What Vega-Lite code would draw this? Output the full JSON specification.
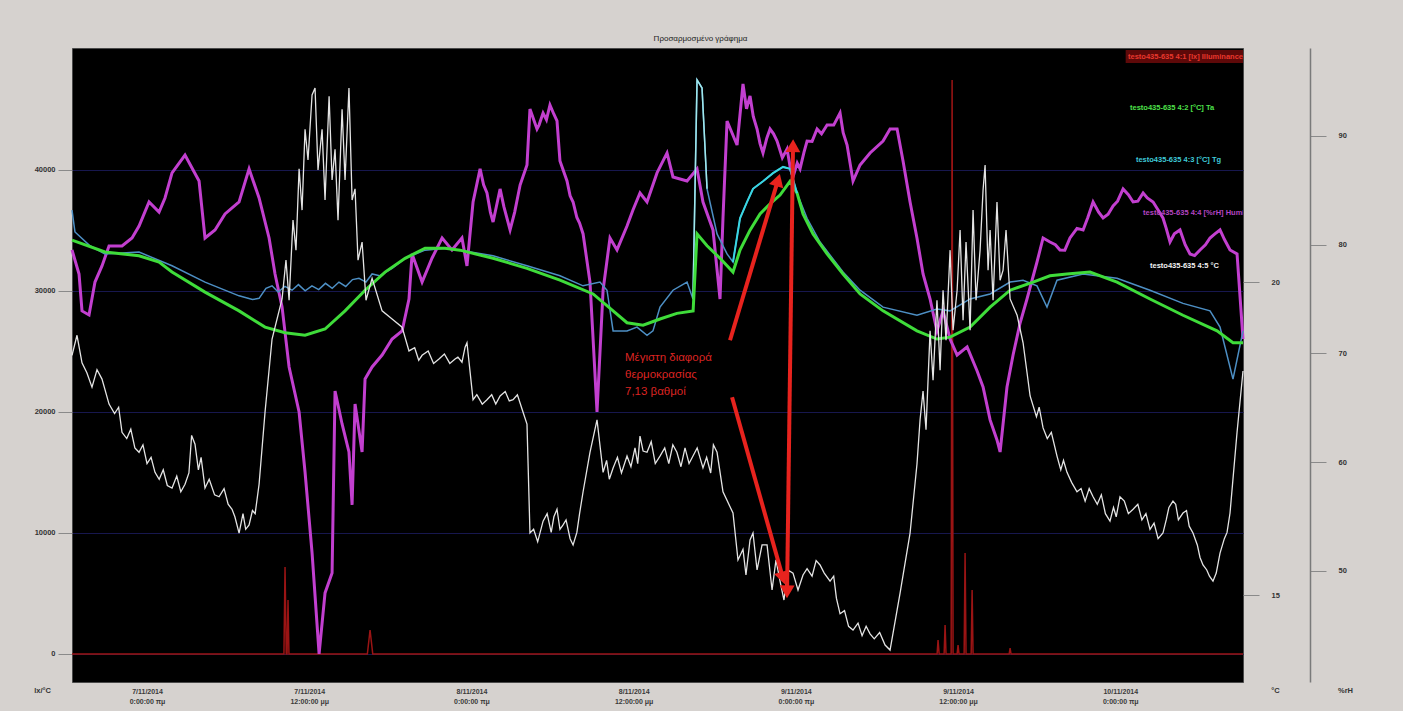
{
  "$schema": "https://vega.github.io/schema/vega-lite/v6.json",
  "width": 1171,
  "height": 634,
  "autosize": {"type": "none"},
  "padding": {"left": 72, "top": 48, "right": 160, "bottom": 29},
  "background": "#d6d2cf",
  "title": {"text": "Προσαρμοσμένο γράφημα", "fontSize": 8, "fontWeight": "normal", "color": "#222222", "anchor": "middle", "offset": 5, "dx": 43},
  "config": {"view": {"fill": "black", "stroke": "#4a4a4a"}, "font": "Liberation Sans"},
  "datasets": {
    "lux": [
      {"h": -5.55, "v": 0}, {"h": 10.13, "v": 0}, {"h": 10.21, "v": 7190}, {"h": 10.3, "v": 0}, {"h": 10.36, "v": 0}, {"h": 10.43, "v": 4463}, {"h": 10.5, "v": 0},
      {"h": 16.3, "v": 0}, {"h": 16.5, "v": 1983}, {"h": 16.7, "v": 0},
      {"h": 58.45, "v": 0}, {"h": 58.52, "v": 1157}, {"h": 58.6, "v": 0}, {"h": 58.97, "v": 0}, {"h": 59.04, "v": 2397}, {"h": 59.11, "v": 0},
      {"h": 59.49, "v": 0}, {"h": 59.56, "v": 47434}, {"h": 59.63, "v": 0}, {"h": 59.93, "v": 0}, {"h": 60.0, "v": 744}, {"h": 60.07, "v": 0},
      {"h": 60.45, "v": 0}, {"h": 60.52, "v": 8347}, {"h": 60.59, "v": 0}, {"h": 60.97, "v": 0}, {"h": 61.04, "v": 5289}, {"h": 61.11, "v": 0},
      {"h": 63.78, "v": 0}, {"h": 63.85, "v": 496}, {"h": 63.92, "v": 0}, {"h": 81.08, "v": 0}
    ],
    "ta": [
      {"h": -5.55, "v": 20.67}, {"h": -3.11, "v": 20.48}, {"h": -0.59, "v": 20.42}, {"h": 0.89, "v": 20.32}, {"h": 1.85, "v": 20.16}, {"h": 4.29, "v": 19.84},
      {"h": 6.81, "v": 19.54}, {"h": 8.73, "v": 19.28}, {"h": 10.21, "v": 19.19}, {"h": 11.69, "v": 19.15}, {"h": 13.17, "v": 19.25}, {"h": 14.65, "v": 19.54},
      {"h": 16.13, "v": 19.87}, {"h": 17.61, "v": 20.16}, {"h": 19.09, "v": 20.38}, {"h": 20.57, "v": 20.54}, {"h": 22.05, "v": 20.54}, {"h": 23.16, "v": 20.51},
      {"h": 25.6, "v": 20.38}, {"h": 28.11, "v": 20.22}, {"h": 30.55, "v": 20.03}, {"h": 33.0, "v": 19.81}, {"h": 34.48, "v": 19.54}, {"h": 35.51, "v": 19.35},
      {"h": 36.7, "v": 19.31}, {"h": 37.95, "v": 19.41}, {"h": 39.2, "v": 19.5}, {"h": 40.4, "v": 19.54}, {"h": 40.69, "v": 20.77}, {"h": 41.43, "v": 20.58},
      {"h": 42.39, "v": 20.38}, {"h": 43.35, "v": 20.16}, {"h": 43.87, "v": 20.51}, {"h": 44.61, "v": 20.83}, {"h": 45.35, "v": 21.09}, {"h": 46.09, "v": 21.25},
      {"h": 46.83, "v": 21.39}, {"h": 47.57, "v": 21.61}, {"h": 48.09, "v": 21.42}, {"h": 48.53, "v": 21.09}, {"h": 49.27, "v": 20.77}, {"h": 50.31, "v": 20.45},
      {"h": 51.49, "v": 20.13}, {"h": 52.75, "v": 19.81}, {"h": 54.45, "v": 19.54}, {"h": 56.96, "v": 19.22}, {"h": 58.44, "v": 19.09}, {"h": 59.41, "v": 19.12},
      {"h": 60.89, "v": 19.28}, {"h": 62.37, "v": 19.6}, {"h": 63.85, "v": 19.87}, {"h": 65.55, "v": 20.0}, {"h": 66.8, "v": 20.1}, {"h": 68.06, "v": 20.13},
      {"h": 69.76, "v": 20.16}, {"h": 71.76, "v": 20.0}, {"h": 74.2, "v": 19.73}, {"h": 76.64, "v": 19.47}, {"h": 79.16, "v": 19.22}, {"h": 80.34, "v": 19.03},
      {"h": 81.08, "v": 19.03}
    ],
    "t": [
      {"h": -5.55, "v": 21.15}, {"h": -5.33, "v": 20.8}, {"h": -4.22, "v": 20.58}, {"h": -3.11, "v": 20.45}, {"h": -0.59, "v": 20.48}, {"h": 1.85, "v": 20.26},
      {"h": 4.29, "v": 20.0}, {"h": 6.81, "v": 19.78}, {"h": 7.8, "v": 19.72}, {"h": 8.29, "v": 19.74}, {"h": 8.8, "v": 19.9}, {"h": 9.25, "v": 19.94},
      {"h": 9.7, "v": 19.84}, {"h": 10.2, "v": 19.93}, {"h": 10.73, "v": 19.87}, {"h": 11.2, "v": 19.96}, {"h": 11.7, "v": 19.86}, {"h": 12.2, "v": 19.94},
      {"h": 12.7, "v": 19.88}, {"h": 13.2, "v": 19.98}, {"h": 13.7, "v": 19.9}, {"h": 14.2, "v": 20.0}, {"h": 14.7, "v": 19.93}, {"h": 15.2, "v": 20.04},
      {"h": 15.68, "v": 20.06}, {"h": 16.2, "v": 20.0}, {"h": 16.65, "v": 20.13}, {"h": 17.2, "v": 20.1}, {"h": 18.13, "v": 20.22}, {"h": 19.09, "v": 20.38},
      {"h": 20.57, "v": 20.51}, {"h": 22.05, "v": 20.54}, {"h": 23.16, "v": 20.51}, {"h": 25.6, "v": 20.42}, {"h": 28.11, "v": 20.26}, {"h": 30.55, "v": 20.1},
      {"h": 32.26, "v": 19.94}, {"h": 33.51, "v": 20.0}, {"h": 34.03, "v": 19.87}, {"h": 34.48, "v": 19.22}, {"h": 35.51, "v": 19.22}, {"h": 36.25, "v": 19.28},
      {"h": 36.99, "v": 19.15}, {"h": 37.43, "v": 19.22}, {"h": 37.95, "v": 19.6}, {"h": 38.91, "v": 19.87}, {"h": 39.95, "v": 20.0}, {"h": 40.39, "v": 19.73},
      {"h": 40.69, "v": 23.23}, {"h": 41.06, "v": 23.1}, {"h": 41.43, "v": 21.49}, {"h": 42.17, "v": 20.77}, {"h": 42.91, "v": 20.45}, {"h": 43.35, "v": 20.32},
      {"h": 43.87, "v": 21.02}, {"h": 44.39, "v": 21.28}, {"h": 44.83, "v": 21.49}, {"h": 45.57, "v": 21.61}, {"h": 46.31, "v": 21.74}, {"h": 47.05, "v": 21.84},
      {"h": 47.57, "v": 21.81}, {"h": 48.09, "v": 21.42}, {"h": 48.83, "v": 21.02}, {"h": 49.79, "v": 20.64}, {"h": 51.49, "v": 20.16}, {"h": 52.75, "v": 19.87},
      {"h": 54.45, "v": 19.6}, {"h": 56.96, "v": 19.47}, {"h": 58.44, "v": 19.57}, {"h": 59.41, "v": 19.54}, {"h": 60.89, "v": 19.73}, {"h": 62.37, "v": 19.81},
      {"h": 63.85, "v": 20.0}, {"h": 64.81, "v": 20.03}, {"h": 65.84, "v": 19.94}, {"h": 66.58, "v": 19.6}, {"h": 67.32, "v": 20.03}, {"h": 69.25, "v": 20.13},
      {"h": 71.76, "v": 20.06}, {"h": 74.2, "v": 19.87}, {"h": 76.64, "v": 19.66}, {"h": 78.64, "v": 19.54}, {"h": 79.38, "v": 19.28}, {"h": 80.34, "v": 18.45},
      {"h": 81.08, "v": 19.22}
    ],
    "t5": [
      {"h": -5.55, "v": 18.83}, {"h": -5.18, "v": 19.15}, {"h": -4.81, "v": 18.71}, {"h": -4.07, "v": 18.32}, {"h": -3.33, "v": 18.45}, {"h": -2.81, "v": 18.05},
      {"h": -1.85, "v": 17.6}, {"h": -0.59, "v": 17.28}, {"h": 0.59, "v": 16.96}, {"h": 1.85, "v": 16.71}, {"h": 2.81, "v": 16.77}, {"h": 3.55, "v": 17.41},
      {"h": 4.29, "v": 16.71}, {"h": 5.33, "v": 16.57}, {"h": 6.29, "v": 16.37}, {"h": 6.81, "v": 15.99}, {"h": 7.55, "v": 16.12}, {"h": 8.29, "v": 16.77},
      {"h": 8.73, "v": 17.92}, {"h": 9.25, "v": 19.09}, {"h": 9.99, "v": 19.73}, {"h": 10.28, "v": 20.35}, {"h": 10.51, "v": 19.71}, {"h": 10.8, "v": 20.99},
      {"h": 11.02, "v": 20.51}, {"h": 11.25, "v": 21.81}, {"h": 11.47, "v": 21.15}, {"h": 11.69, "v": 22.44}, {"h": 11.91, "v": 21.95}, {"h": 12.21, "v": 22.99},
      {"h": 12.43, "v": 23.1}, {"h": 12.65, "v": 21.79}, {"h": 12.95, "v": 22.44}, {"h": 13.17, "v": 21.31}, {"h": 13.47, "v": 22.97}, {"h": 13.69, "v": 21.63},
      {"h": 13.91, "v": 22.12}, {"h": 14.13, "v": 20.99}, {"h": 14.43, "v": 22.76}, {"h": 14.65, "v": 21.63}, {"h": 14.94, "v": 23.1}, {"h": 15.17, "v": 21.31},
      {"h": 15.39, "v": 21.49}, {"h": 15.61, "v": 20.35}, {"h": 15.91, "v": 20.64}, {"h": 16.2, "v": 19.71}, {"h": 16.65, "v": 20.06}, {"h": 17.39, "v": 19.54},
      {"h": 18.13, "v": 19.41}, {"h": 18.87, "v": 19.28}, {"h": 19.38, "v": 18.9}, {"h": 20.35, "v": 18.83}, {"h": 21.6, "v": 18.77}, {"h": 22.79, "v": 18.77},
      {"h": 23.53, "v": 18.96}, {"h": 23.67, "v": 19.03}, {"h": 24.12, "v": 18.12}, {"h": 25.15, "v": 18.12}, {"h": 26.12, "v": 18.18}, {"h": 27.08, "v": 18.12},
      {"h": 27.82, "v": 17.92}, {"h": 28.11, "v": 17.73}, {"h": 28.33, "v": 15.99}, {"h": 29.3, "v": 16.18}, {"h": 30.33, "v": 16.37}, {"h": 30.78, "v": 16.12},
      {"h": 31.52, "v": 15.8}, {"h": 32.26, "v": 16.65}, {"h": 32.77, "v": 17.28}, {"h": 33.29, "v": 17.8}, {"h": 33.74, "v": 16.96}, {"h": 34.48, "v": 17.03},
      {"h": 35.51, "v": 17.22}, {"h": 36.47, "v": 17.54}, {"h": 36.99, "v": 17.28}, {"h": 37.95, "v": 17.22}, {"h": 39.2, "v": 17.28}, {"h": 40.39, "v": 17.22},
      {"h": 41.13, "v": 17.03}, {"h": 42.17, "v": 17.28}, {"h": 42.61, "v": 16.65}, {"h": 43.35, "v": 16.31}, {"h": 43.72, "v": 15.56}, {"h": 44.09, "v": 15.73},
      {"h": 44.31, "v": 15.32}, {"h": 44.61, "v": 15.88}, {"h": 44.83, "v": 15.99}, {"h": 45.13, "v": 15.4}, {"h": 45.5, "v": 15.8}, {"h": 45.87, "v": 15.8},
      {"h": 46.24, "v": 15.08}, {"h": 46.53, "v": 15.56}, {"h": 46.83, "v": 15.22}, {"h": 47.12, "v": 14.92}, {"h": 47.42, "v": 15.4}, {"h": 47.79, "v": 15.35},
      {"h": 48.16, "v": 15.08}, {"h": 48.53, "v": 15.32}, {"h": 48.83, "v": 15.42}, {"h": 49.79, "v": 15.48}, {"h": 50.53, "v": 15.22}, {"h": 51.27, "v": 14.7},
      {"h": 52.23, "v": 14.44}, {"h": 53.49, "v": 14.38}, {"h": 54.97, "v": 14.12}, {"h": 55.71, "v": 15.03}, {"h": 56.45, "v": 15.99}, {"h": 56.96, "v": 17.09},
      {"h": 57.19, "v": 17.8}, {"h": 57.41, "v": 18.26}, {"h": 57.63, "v": 17.64}, {"h": 57.93, "v": 19.22}, {"h": 58.15, "v": 18.43}, {"h": 58.44, "v": 19.71},
      {"h": 58.67, "v": 18.59}, {"h": 58.89, "v": 19.87}, {"h": 59.11, "v": 19.07}, {"h": 59.41, "v": 20.51}, {"h": 59.63, "v": 19.23}, {"h": 59.93, "v": 19.87},
      {"h": 60.15, "v": 20.83}, {"h": 60.37, "v": 19.39}, {"h": 60.59, "v": 20.64}, {"h": 60.89, "v": 19.23}, {"h": 61.11, "v": 21.15}, {"h": 61.33, "v": 19.71},
      {"h": 61.63, "v": 20.51}, {"h": 61.85, "v": 21.47}, {"h": 62.0, "v": 21.87}, {"h": 62.22, "v": 20.19}, {"h": 62.37, "v": 20.83}, {"h": 62.59, "v": 19.71},
      {"h": 62.88, "v": 21.28}, {"h": 63.11, "v": 20.03}, {"h": 63.33, "v": 20.19}, {"h": 63.55, "v": 20.83}, {"h": 63.85, "v": 19.73}, {"h": 64.37, "v": 19.47},
      {"h": 64.81, "v": 19.03}, {"h": 65.33, "v": 18.18}, {"h": 66.29, "v": 17.67}, {"h": 67.32, "v": 17.22}, {"h": 68.06, "v": 16.96}, {"h": 68.8, "v": 16.65},
      {"h": 69.99, "v": 16.57}, {"h": 71.24, "v": 16.18}, {"h": 71.98, "v": 16.57}, {"h": 72.95, "v": 16.37}, {"h": 74.2, "v": 16.05}, {"h": 75.16, "v": 15.99},
      {"h": 75.9, "v": 16.5}, {"h": 76.64, "v": 16.31}, {"h": 77.38, "v": 15.99}, {"h": 78.12, "v": 15.48}, {"h": 78.86, "v": 15.22}, {"h": 79.38, "v": 15.67},
      {"h": 80.12, "v": 16.31}, {"h": 80.64, "v": 17.6}, {"h": 81.08, "v": 18.58},
      {"h": -4.45, "v": 18.55}, {"h": -3.7, "v": 18.6}, {"h": -2.4, "v": 17.9}, {"h": -2.1, "v": 18.0}, {"h": -1.5, "v": 17.5}, {"h": -1.2, "v": 17.65},
      {"h": -0.9, "v": 17.35}, {"h": -0.3, "v": 17.4}, {"h": 0.0, "v": 17.1}, {"h": 0.3, "v": 17.2}, {"h": 0.9, "v": 16.85}, {"h": 1.2, "v": 17.0},
      {"h": 1.5, "v": 16.75}, {"h": 2.2, "v": 16.9}, {"h": 2.5, "v": 16.65}, {"h": 3.1, "v": 16.95}, {"h": 3.3, "v": 17.55}, {"h": 3.8, "v": 17.0},
      {"h": 4.0, "v": 17.2}, {"h": 4.6, "v": 16.85}, {"h": 5.0, "v": 16.6}, {"h": 5.7, "v": 16.7}, {"h": 6.0, "v": 16.45}, {"h": 6.5, "v": 16.25},
      {"h": 7.1, "v": 16.3}, {"h": 7.3, "v": 16.05}, {"h": 7.8, "v": 16.35}, {"h": 8.0, "v": 16.3},
      {"h": 19.8, "v": 18.95}, {"h": 20.1, "v": 18.75}, {"h": 20.8, "v": 18.9}, {"h": 21.2, "v": 18.7}, {"h": 22.0, "v": 18.85}, {"h": 22.4, "v": 18.7},
      {"h": 23.0, "v": 18.8}, {"h": 23.3, "v": 18.72}, {"h": 24.4, "v": 18.2}, {"h": 24.8, "v": 18.05}, {"h": 25.5, "v": 18.2}, {"h": 25.8, "v": 18.05},
      {"h": 26.5, "v": 18.25}, {"h": 26.8, "v": 18.1}, {"h": 27.4, "v": 18.2},
      {"h": 28.6, "v": 16.05}, {"h": 28.9, "v": 15.85}, {"h": 29.6, "v": 16.3}, {"h": 29.9, "v": 16.0}, {"h": 30.1, "v": 16.25}, {"h": 30.55, "v": 16.05},
      {"h": 31.0, "v": 16.2}, {"h": 31.3, "v": 15.9}, {"h": 31.8, "v": 16.0}, {"h": 32.0, "v": 16.3},
      {"h": 34.0, "v": 17.15}, {"h": 34.2, "v": 16.85}, {"h": 34.8, "v": 17.2}, {"h": 35.1, "v": 16.95}, {"h": 35.8, "v": 17.05}, {"h": 36.1, "v": 17.35},
      {"h": 36.3, "v": 17.1}, {"h": 36.7, "v": 17.3}, {"h": 37.3, "v": 17.45}, {"h": 37.6, "v": 17.1}, {"h": 38.3, "v": 17.35}, {"h": 38.6, "v": 17.1},
      {"h": 38.9, "v": 17.4}, {"h": 39.5, "v": 17.05}, {"h": 39.8, "v": 17.35}, {"h": 40.1, "v": 17.1}, {"h": 40.7, "v": 17.35}, {"h": 41.4, "v": 17.2},
      {"h": 41.7, "v": 16.95}, {"h": 41.9, "v": 17.4},
      {"h": 49.2, "v": 15.3}, {"h": 49.5, "v": 15.55}, {"h": 50.1, "v": 15.35}, {"h": 50.8, "v": 15.3}, {"h": 51.0, "v": 14.95}, {"h": 51.6, "v": 14.75},
      {"h": 51.9, "v": 14.5}, {"h": 52.6, "v": 14.55}, {"h": 52.9, "v": 14.35}, {"h": 53.2, "v": 14.5}, {"h": 53.8, "v": 14.3}, {"h": 54.2, "v": 14.4},
      {"h": 54.6, "v": 14.2},
      {"h": 65.8, "v": 17.85}, {"h": 66.0, "v": 18.0}, {"h": 66.6, "v": 17.5}, {"h": 66.9, "v": 17.6}, {"h": 67.6, "v": 17.0}, {"h": 67.8, "v": 17.15},
      {"h": 68.4, "v": 16.8}, {"h": 69.1, "v": 16.7}, {"h": 69.4, "v": 16.5}, {"h": 69.7, "v": 16.7}, {"h": 70.3, "v": 16.45}, {"h": 70.6, "v": 16.6},
      {"h": 70.9, "v": 16.3}, {"h": 71.5, "v": 16.4}, {"h": 71.7, "v": 16.25}, {"h": 72.3, "v": 16.5}, {"h": 72.6, "v": 16.3}, {"h": 73.3, "v": 16.45},
      {"h": 73.6, "v": 16.2}, {"h": 73.9, "v": 16.3}, {"h": 74.5, "v": 16.15}, {"h": 74.8, "v": 15.9}, {"h": 75.4, "v": 16.2}, {"h": 75.6, "v": 16.4},
      {"h": 76.1, "v": 16.45}, {"h": 76.3, "v": 16.2}, {"h": 76.9, "v": 16.35}, {"h": 77.1, "v": 16.1}, {"h": 77.7, "v": 15.8}, {"h": 77.9, "v": 15.6},
      {"h": 78.4, "v": 15.4}, {"h": 78.6, "v": 15.3}, {"h": 79.1, "v": 15.35}, {"h": 79.7, "v": 15.9}, {"h": 79.9, "v": 16.0}
    ],
    "rh": [
      {"h": -5.55, "v": 79.52}, {"h": -5.03, "v": 77.31}, {"h": -4.81, "v": 73.91}, {"h": -4.29, "v": 73.54}, {"h": -3.85, "v": 76.57}, {"h": -3.33, "v": 78.05},
      {"h": -2.81, "v": 79.89}, {"h": -1.85, "v": 79.89}, {"h": -1.11, "v": 80.62}, {"h": -0.59, "v": 81.72}, {"h": 0.15, "v": 83.93}, {"h": 0.89, "v": 83.01},
      {"h": 1.33, "v": 84.3}, {"h": 1.85, "v": 86.6}, {"h": 2.81, "v": 88.25}, {"h": 3.85, "v": 85.86}, {"h": 4.29, "v": 80.62}, {"h": 5.03, "v": 81.36},
      {"h": 5.77, "v": 82.83}, {"h": 6.81, "v": 83.93}, {"h": 7.55, "v": 86.97}, {"h": 8.29, "v": 84.3}, {"h": 9.03, "v": 80.62}, {"h": 9.47, "v": 77.31},
      {"h": 9.99, "v": 74.28}, {"h": 10.51, "v": 68.76}, {"h": 11.25, "v": 64.62}, {"h": 11.69, "v": 59.1}, {"h": 12.21, "v": 51.66}, {"h": 12.73, "v": 42.37},
      {"h": 13.17, "v": 47.98}, {"h": 13.69, "v": 49.82}, {"h": 13.91, "v": 66.55}, {"h": 14.43, "v": 63.52}, {"h": 14.94, "v": 60.94}, {"h": 15.17, "v": 56.07},
      {"h": 15.39, "v": 65.36}, {"h": 15.91, "v": 60.94}, {"h": 16.13, "v": 67.66}, {"h": 16.65, "v": 68.76}, {"h": 17.39, "v": 69.86}, {"h": 18.13, "v": 71.33},
      {"h": 18.87, "v": 72.07}, {"h": 19.38, "v": 75.01}, {"h": 19.61, "v": 79.15}, {"h": 20.35, "v": 76.57}, {"h": 21.09, "v": 78.78}, {"h": 21.83, "v": 80.62},
      {"h": 22.56, "v": 79.52}, {"h": 23.3, "v": 80.62}, {"h": 23.67, "v": 78.05}, {"h": 24.12, "v": 83.93}, {"h": 24.64, "v": 86.97}, {"h": 25.15, "v": 84.76},
      {"h": 25.6, "v": 82.09}, {"h": 26.12, "v": 85.13}, {"h": 26.86, "v": 81.36}, {"h": 27.6, "v": 85.49}, {"h": 28.11, "v": 87.33}, {"h": 28.33, "v": 92.48},
      {"h": 28.85, "v": 90.64}, {"h": 29.3, "v": 92.11}, {"h": 29.81, "v": 92.85}, {"h": 30.33, "v": 91.38}, {"h": 30.55, "v": 87.7}, {"h": 31.07, "v": 85.86},
      {"h": 31.52, "v": 83.93}, {"h": 32.26, "v": 80.99}, {"h": 32.77, "v": 76.57}, {"h": 33.0, "v": 71.33}, {"h": 33.29, "v": 64.62}, {"h": 33.74, "v": 75.84},
      {"h": 34.25, "v": 80.62}, {"h": 34.77, "v": 79.52}, {"h": 35.51, "v": 81.72}, {"h": 35.95, "v": 83.2}, {"h": 36.47, "v": 84.76}, {"h": 36.99, "v": 83.93},
      {"h": 37.73, "v": 86.6}, {"h": 38.47, "v": 88.44}, {"h": 38.91, "v": 86.23}, {"h": 39.95, "v": 85.86}, {"h": 40.69, "v": 86.97}, {"h": 41.13, "v": 83.93},
      {"h": 41.87, "v": 81.36}, {"h": 42.39, "v": 75.01}, {"h": 42.61, "v": 82.46}, {"h": 42.91, "v": 91.38}, {"h": 43.65, "v": 89.17}, {"h": 44.09, "v": 94.78},
      {"h": 44.61, "v": 93.68}, {"h": 45.13, "v": 90.64}, {"h": 45.57, "v": 88.44}, {"h": 46.09, "v": 90.64}, {"h": 46.61, "v": 89.54}, {"h": 47.35, "v": 88.8},
      {"h": 47.79, "v": 86.23}, {"h": 48.31, "v": 86.97}, {"h": 48.83, "v": 89.54}, {"h": 49.57, "v": 90.64}, {"h": 50.31, "v": 91.01}, {"h": 51.27, "v": 92.11},
      {"h": 51.79, "v": 89.17}, {"h": 52.23, "v": 85.86}, {"h": 52.75, "v": 87.33}, {"h": 53.49, "v": 88.44}, {"h": 54.45, "v": 89.54}, {"h": 54.97, "v": 90.64},
      {"h": 55.49, "v": 90.64}, {"h": 55.93, "v": 87.7}, {"h": 56.45, "v": 83.93}, {"h": 56.96, "v": 80.62}, {"h": 57.41, "v": 77.31}, {"h": 57.93, "v": 75.01},
      {"h": 58.44, "v": 72.07}, {"h": 58.89, "v": 73.91}, {"h": 59.41, "v": 71.33}, {"h": 59.93, "v": 69.86}, {"h": 60.67, "v": 70.6}, {"h": 61.41, "v": 68.39},
      {"h": 61.85, "v": 66.92}, {"h": 62.37, "v": 63.89}, {"h": 62.88, "v": 62.05}, {"h": 63.11, "v": 60.94}, {"h": 63.62, "v": 66.92}, {"h": 64.07, "v": 69.86},
      {"h": 64.59, "v": 72.8}, {"h": 65.1, "v": 75.01}, {"h": 65.84, "v": 78.41}, {"h": 66.29, "v": 80.62}, {"h": 66.8, "v": 80.25}, {"h": 67.54, "v": 79.52},
      {"h": 68.28, "v": 80.62}, {"h": 69.25, "v": 81.36}, {"h": 69.99, "v": 83.93}, {"h": 70.73, "v": 82.46}, {"h": 71.47, "v": 83.56}, {"h": 72.21, "v": 85.13},
      {"h": 72.95, "v": 83.93}, {"h": 73.69, "v": 84.76}, {"h": 74.43, "v": 83.93}, {"h": 75.16, "v": 82.46}, {"h": 75.68, "v": 80.25}, {"h": 76.42, "v": 81.36},
      {"h": 77.16, "v": 79.15}, {"h": 77.9, "v": 79.52}, {"h": 78.64, "v": 80.62}, {"h": 79.38, "v": 81.36}, {"h": 80.12, "v": 79.52}, {"h": 80.64, "v": 79.15},
      {"h": 81.08, "v": 71.33},
      {"h": 24.9, "v": 85.5}, {"h": 25.4, "v": 83.0}, {"h": 26.4, "v": 83.5}, {"h": 27.2, "v": 83.0}, {"h": 29.0, "v": 91.0}, {"h": 29.55, "v": 91.5},
      {"h": 30.1, "v": 92.0}, {"h": 31.3, "v": 84.5}, {"h": 31.8, "v": 82.5}, {"h": 32.0, "v": 82.0},
      {"h": 44.35, "v": 92.5}, {"h": 44.85, "v": 91.8}, {"h": 45.35, "v": 89.3}, {"h": 45.85, "v": 89.8}, {"h": 46.35, "v": 90.2}, {"h": 47.0, "v": 88.0},
      {"h": 47.6, "v": 87.0}, {"h": 48.1, "v": 87.5}, {"h": 48.6, "v": 88.5}, {"h": 49.2, "v": 89.5}, {"h": 49.9, "v": 90.2}, {"h": 50.8, "v": 91.0},
      {"h": 51.5, "v": 90.3},
      {"h": 67.2, "v": 80.0}, {"h": 67.9, "v": 79.5}, {"h": 68.8, "v": 81.5}, {"h": 69.6, "v": 82.5}, {"h": 70.4, "v": 83.0}, {"h": 71.1, "v": 82.8},
      {"h": 71.8, "v": 84.0}, {"h": 72.6, "v": 84.6}, {"h": 73.3, "v": 84.0}, {"h": 74.0, "v": 84.3}, {"h": 74.8, "v": 83.2}, {"h": 75.4, "v": 81.5},
      {"h": 76.0, "v": 81.0}, {"h": 76.8, "v": 80.0}, {"h": 77.5, "v": 79.0}, {"h": 78.3, "v": 80.0}, {"h": 79.0, "v": 81.0}, {"h": 79.7, "v": 80.5}
    ],
    "legend": [
      {"series": "lx", "label": "testo435-635 4:1 [lx] Illuminance", "h": 72.57, "pos": 49336},
      {"series": "Ta", "label": "testo435-635 4:2 [°C] Ta", "h": 72.72, "pos": 45121},
      {"series": "T", "label": "testo435-635 4:3 [°C] Tg", "h": 73.16, "pos": 40824},
      {"series": "rH", "label": "testo435-635 4:4 [%rH] Humidity", "h": 73.69, "pos": 36444},
      {"series": "T5", "label": "testo435-635 4:5 °C", "h": 74.2, "pos": 32064}
    ],
    "legendbox": [{"h": 72.4, "h2": 81.08, "top": 49915, "bottom": 48840}],
    "note": [{"h": 35.36, "v": 18.88, "text": "Μέγιστη διαφορά\nθερμοκρασίας\n7,13 βαθμοί"}],
    "arrows": [
      {"h": 43.13, "v": 19.07, "h2": 46.68, "v2": 21.63},
      {"h": 43.28, "v": 18.16, "h2": 47.05, "v2": 15.27},
      {"h": 47.79, "v": 22.18, "h2": 47.35, "v2": 15.05}
    ]
  },
  "encoding": {
    "x": {
      "field": "h", "type": "quantitative",
      "scale": {"domain": [-5.55, 81.08], "nice": false, "zero": false},
      "axis": {
        "values": [0, 12, 24, 36, 48, 60, 72],
        "labelExpr": "[(7 + floor(datum.value / 24)) + '/11/2014', datum.value % 24 == 0 ? '0:00:00 πμ' : '12:00:00 μμ']",
        "title": null, "grid": false, "domain": false, "ticks": false,
        "labelPadding": 5, "labelFontSize": 7, "labelFontWeight": "bold", "labelColor": "#3a3a3a", "labelLineHeight": 10
      }
    }
  },
  "resolve": {"scale": {"y": "independent"}},
  "layer": [
    {
      "layer": [
        {
          "data": {"name": "lux"},
          "mark": {"type": "line", "color": "#9a1414", "strokeWidth": 1.5},
          "encoding": {
            "y": {
              "field": "v", "type": "quantitative",
              "scale": {"domain": [-2314, 50080], "nice": false, "zero": false},
              "axis": {
                "orient": "left", "values": [0, 10000, 20000, 30000, 40000], "format": "d",
                "title": "lx/°C", "titleAngle": 0, "titleX": -30, "titleY": 642, "titleAlign": "center", "titleBaseline": "middle",
                "titleFontSize": 7.5, "titleFontWeight": "bold", "titleColor": "#333333",
                "grid": true, "gridColor": "#17174e", "gridWidth": 1,
                "domain": false, "tickSize": 14, "tickColor": "#8a8a8a",
                "labelPadding": 3, "labelFontSize": 7.5, "labelFontWeight": "bold", "labelColor": "#333333"
              }
            }
          }
        }
      ]
    },
    {
      "layer": [
        {
          "data": {"name": "rh"},
          "mark": {"type": "line", "color": "#c23fcf", "strokeWidth": 3},
          "encoding": {
            "y": {
              "field": "v", "type": "quantitative",
              "scale": {"domain": [39.79, 98.09], "nice": false, "zero": false},
              "axis": {
                "orient": "right", "offset": 67, "values": [50, 60, 70, 80, 90],
                "title": "%rH", "titleAngle": 0, "titleX": 35, "titleY": 642, "titleAlign": "center", "titleBaseline": "middle",
                "titleFontSize": 7.5, "titleFontWeight": "bold", "titleColor": "#333333",
                "grid": false, "domain": true, "domainColor": "#7a7a7a", "domainWidth": 1.5,
                "tickSize": 16, "tickColor": "#8a8a8a",
                "labelPadding": 12, "labelFontSize": 7.5, "labelFontWeight": "bold", "labelColor": "#333333"
              }
            }
          }
        }
      ]
    },
    {
      "encoding": {
        "y": {
          "field": "v", "type": "quantitative",
          "scale": {"domain": [13.61, 23.74], "nice": false, "zero": false},
          "axis": {
            "orient": "right", "values": [15, 20],
            "title": "°C", "titleAngle": 0, "titleX": 32, "titleY": 642, "titleAlign": "center", "titleBaseline": "middle",
            "titleFontSize": 7.5, "titleFontWeight": "bold", "titleColor": "#333333",
            "grid": false, "domain": false, "tickSize": 16, "tickColor": "#8a8a8a",
            "labelPadding": 12, "labelFontSize": 7.5, "labelFontWeight": "bold", "labelColor": "#333333"
          }
        }
      },
      "layer": [
        {
          "data": {"name": "t"},
          "mark": {"type": "line", "color": "#4d8fc4", "strokeWidth": 1.5}
        },
        {
          "data": {"name": "t"},
          "transform": [{"filter": "datum.h >= 40.39 && datum.h <= 41.43"}],
          "mark": {"type": "line", "color": "#9fe8ea", "strokeWidth": 1.5}
        },
        {
          "data": {"name": "ta"},
          "mark": {"type": "line", "color": "#3fdc3a", "strokeWidth": 3}
        },
        {
          "data": {"name": "t"},
          "transform": [{"filter": "datum.h >= 43.35 && datum.h <= 48.09"}],
          "mark": {"type": "line", "color": "#39d6e2", "strokeWidth": 2}
        },
        {
          "data": {"name": "t5"},
          "mark": {"type": "line", "color": "#e4e4e4", "strokeWidth": 1.3}
        },
        {
          "data": {"name": "arrows"},
          "mark": {"type": "rule", "color": "#e8231e", "strokeWidth": 4},
          "encoding": {"x2": {"field": "h2"}, "y2": {"field": "v2"}}
        },
        {
          "data": {"values": [{"h": 46.68, "v": 21.63}]},
          "mark": {"type": "point", "shape": "triangle-up", "angle": 17, "size": 220, "filled": true, "color": "#e8231e", "opacity": 1}
        },
        {
          "data": {"values": [{"h": 47.05, "v": 15.27}]},
          "mark": {"type": "point", "shape": "triangle-up", "angle": 164, "size": 220, "filled": true, "color": "#e8231e", "opacity": 1}
        },
        {
          "data": {"values": [{"h": 47.79, "v": 22.18}]},
          "mark": {"type": "point", "shape": "triangle-up", "angle": 1, "size": 220, "filled": true, "color": "#e8231e", "opacity": 1}
        },
        {
          "data": {"values": [{"h": 47.35, "v": 15.05}]},
          "mark": {"type": "point", "shape": "triangle-up", "angle": 181, "size": 220, "filled": true, "color": "#e8231e", "opacity": 1}
        },
        {
          "data": {"name": "note"},
          "mark": {"type": "text", "align": "left", "baseline": "top", "fontSize": 11.5, "lineHeight": 17, "lineBreak": "\n", "color": "#dc2422"},
          "encoding": {"text": {"field": "text"}}
        }
      ]
    },
    {
      "encoding": {
        "y": {"field": "pos", "type": "quantitative", "scale": {"domain": [-2314, 50080], "nice": false, "zero": false}, "axis": null}
      },
      "layer": [
        {
          "data": {"name": "legendbox"},
          "mark": {"type": "rect", "color": "#5e0909", "clip": true},
          "encoding": {
            "x2": {"field": "h2"},
            "y": {"field": "top", "type": "quantitative", "scale": {"domain": [-2314, 50080], "nice": false, "zero": false}, "axis": null},
            "y2": {"field": "bottom"}
          }
        },
        {
          "data": {"name": "legend"},
          "mark": {"type": "text", "align": "left", "baseline": "middle", "fontSize": 7.5, "fontWeight": "bold", "clip": true},
          "encoding": {
            "text": {"field": "label"},
            "color": {
              "field": "series", "type": "nominal", "legend": null,
              "scale": {"domain": ["lx", "Ta", "T", "rH", "T5"], "range": ["#e8382e", "#4ee04a", "#3fcad8", "#b444c2", "#f2f2f2"]}
            }
          }
        }
      ]
    }
  ]
}
